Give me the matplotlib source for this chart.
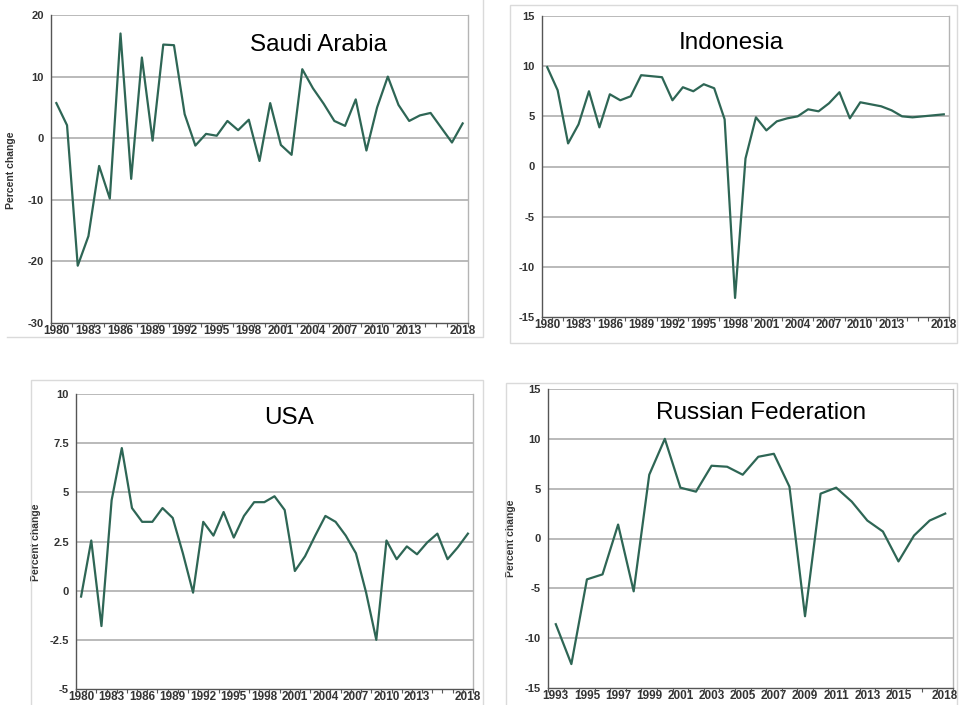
import matplotlib
matplotlib.use("Agg")
import matplotlib.pyplot as plt
from matplotlib.lines import Line2D
from matplotlib.patches import Rectangle
import numpy as np

plt.rcParams["font.family"] = ["Liberation Sans", "DejaVu Sans"]
plt.rcParams["axes.unicode_minus"] = False

# ---------------- data ----------------
years_long = list(range(1980, 2019))
years_russia = list(range(1993, 2019))

saudi = [5.7, 2.1, -20.7, -15.9, -4.5, -9.8, 17.0, -6.6, 13.1, -0.4,
         15.2, 15.1, 3.9, -1.2, 0.7, 0.4, 2.8, 1.3, 3.0, -3.7,
         5.7, -1.1, -2.7, 11.2, 8.1, 5.6, 2.8, 2.0, 6.3, -2.0,
         5.0, 10.0, 5.4, 2.8, 3.7, 4.1, 1.7, -0.7, 2.4]

indonesia = [9.9, 7.6, 2.3, 4.2, 7.5, 3.9, 7.2, 6.6, 7.0, 9.1,
             9.0, 8.9, 6.6, 7.9, 7.5, 8.2, 7.8, 4.7, -13.1, 0.8,
             4.9, 3.6, 4.5, 4.8, 5.0, 5.7, 5.5, 6.3, 7.4, 4.8,
             6.4, 6.2, 6.0, 5.6, 5.0, 4.9, 5.0, 5.1, 5.2]

usa = [-0.3, 2.55, -1.8, 4.6, 7.25, 4.2, 3.5, 3.5, 4.2, 3.7,
       1.9, -0.1, 3.5, 2.8, 4.0, 2.7, 3.8, 4.5, 4.5, 4.8,
       4.1, 1.0, 1.75, 2.8, 3.8, 3.5, 2.8, 1.9, -0.1, -2.5,
       2.55, 1.6, 2.25, 1.85, 2.45, 2.9, 1.6, 2.2, 2.9]

russia = [-8.6, -12.6, -4.1, -3.6, 1.4, -5.3, 6.4, 10.0, 5.1, 4.7,
          7.3, 7.2, 6.4, 8.2, 8.5, 5.2, -7.8, 4.5, 5.1, 3.7,
          1.8, 0.7, -2.3, 0.3, 1.8, 2.5]

titles = ["Saudi Arabia", "Indonesia", "USA", "Russian Federation"]

saudi_yticks = [-30, -20, -10, 0, 10, 20]
indonesia_yticks = [-15, -10, -5, 0, 5, 10, 15]
usa_yticks = [-5, -2.5, 0, 2.5, 5, 7.5, 10]
russia_yticks = [-15, -10, -5, 0, 5, 10, 15]

long_xlabels = [1980, 1983, 1986, 1989, 1992, 1995, 1998, 2001, 2004,
                2007, 2010, 2013, 2018]
russia_xlabels = [1993, 1995, 1997, 1999, 2001, 2003, 2005, 2007, 2009,
                  2011, 2013, 2015, 2018]

# ---------------- style ----------------
LINE = "#2E6655"
GRID = "#B4B4B4"
FRAME = "#DADADA"
TXT = "#333333"
W, H = 959, 705

fig = plt.figure(figsize=(W / 100, H / 100), dpi=100)
fig.patch.set_facecolor("white")


def rect(x0, y0, x1, y1):
    """pixel box (top-left origin) -> figure fraction rect"""
    return [x0 / W, 1 - y1 / H, (x1 - x0) / W, (y1 - y0) / H]


def fline(xs, ys):
    fig.lines.append(Line2D([x / W for x in xs], [1 - y / H for y in ys],
                            transform=fig.transFigure, color=FRAME,
                            linewidth=1.0))


# light panel frames
fline([7, 483, 483], [337, 337, -2])
for (x0, y0, x1, y1) in [(510, 5, 957, 343), (31, 380, 483, 712),
                         (506, 383, 957, 712)]:
    fig.patches.append(Rectangle((x0 / W, 1 - y1 / H), (x1 - x0) / W,
                                 (y1 - y0) / H, transform=fig.transFigure,
                                 fill=False, edgecolor=FRAME, linewidth=1.0))


def fmt(v):
    return str(int(v)) if float(v).is_integer() else str(v)


panels = [
    dict(box=(51, 15, 468, 323), x=years_long, y=saudi, yt=saudi_yticks,
         xl=long_xlabels, xlim=(1979.5, 2018.5),
         title_pos=(0.641, 0.903), ylabel=(-0.084, 0.497)),
    dict(box=(542, 16, 949, 317), x=years_long, y=indonesia,
         yt=indonesia_yticks, xl=long_xlabels,
         xlim=(1979.5, 2018.5), title_pos=(0.464, 0.91), ylabel=None),
    dict(box=(76, 394, 473, 689), x=years_long, y=usa, yt=usa_yticks,
         xl=long_xlabels, xlim=(1979.5, 2018.5),
         title_pos=(0.536, 0.919), ylabel=(-0.088, 0.498)),
    dict(box=(548, 389, 953, 688), x=years_russia, y=russia,
         yt=russia_yticks, xl=russia_xlabels,
         xlim=(1992.5, 2018.5), title_pos=(0.526, 0.921),
         ylabel=(-0.079, 0.50)),
]

for p, title in zip(panels, titles):
    ax = fig.add_axes(rect(*p["box"]))
    ax.plot(p["x"], p["y"], color=LINE, linewidth=1.6, zorder=3)
    ax.set_xlim(*p["xlim"])
    ax.set_ylim(p["yt"][0], p["yt"][-1])
    for v in p["yt"][1:]:
        ax.axhline(v, color=GRID, linewidth=1.3, zorder=1)
    ax.set_yticks(p["yt"])
    ax.set_yticklabels([fmt(v) for v in p["yt"]], fontweight="bold",
                       fontsize=8, color=TXT)
    ax.set_xticks(p["xl"])
    ax.set_xticklabels([str(v) for v in p["xl"]], fontweight="bold",
                       fontsize=8.5, color=TXT)
    lo, hi = p["xlim"]
    ax.set_xticks(np.arange(lo, hi + 0.01, 1.0), minor=True)
    ax.tick_params(axis="x", which="major", length=0, pad=1.5)
    ax.tick_params(axis="x", which="minor", length=3, width=0.8,
                   color="#555555", direction="out")
    ax.tick_params(axis="y", length=0, pad=5)
    ax.spines["left"].set_color("#555555")
    ax.spines["left"].set_linewidth(1.0)
    ax.spines["bottom"].set_color("#555555")
    ax.spines["bottom"].set_linewidth(1.0)
    ax.spines["top"].set_visible(False)
    ax.spines["right"].set_color(GRID)
    ax.spines["right"].set_linewidth(1.0)
    ax.text(p["title_pos"][0], p["title_pos"][1], title,
            transform=ax.transAxes, ha="center", va="center",
            fontsize=17.5, color="black")
    if p["ylabel"] is not None:
        ax.set_ylabel("Percent change", fontsize=7.5, fontweight="bold",
                      color=TXT)
        ax.yaxis.set_label_coords(*p["ylabel"])

fig.savefig("out.png", dpi=100, facecolor="white")
